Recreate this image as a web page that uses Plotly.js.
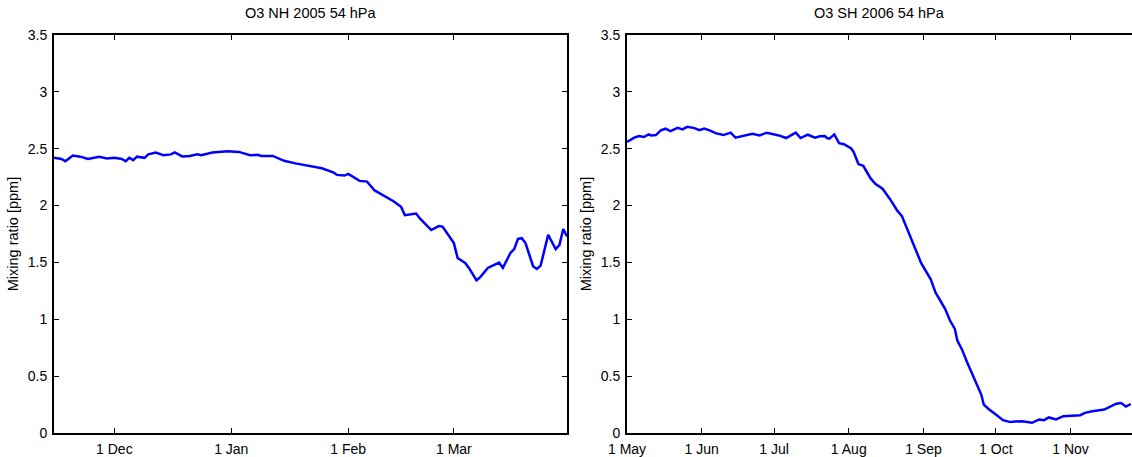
<!DOCTYPE html>
<html>
<head>
<meta charset="utf-8">
<script src="https://cdn.plot.ly/plotly-3.0.1.min.js"></script>
<style>
  html, body { margin: 0; padding: 0; background: #fff; overflow: hidden; }
  #chart { width: 1132px; height: 457px; }
</style>
</head>
<body>
<div id="chart"></div>
<script>
// O3 mixing ratio at 54 hPa, NH winter 2005/06
var nhDates = [
  '2005-11-15', '2005-11-17', '2005-11-18', '2005-11-20', '2005-11-22', '2005-11-24',
  '2005-11-27', '2005-11-29', '2005-12-01', '2005-12-03', '2005-12-04', '2005-12-05',
  '2005-12-06', '2005-12-07', '2005-12-09', '2005-12-10', '2005-12-12', '2005-12-14',
  '2005-12-16', '2005-12-17', '2005-12-19', '2005-12-21', '2005-12-23', '2005-12-24',
  '2005-12-27', '2005-12-31', '2006-01-03', '2006-01-06', '2006-01-08', '2006-01-09',
  '2006-01-12', '2006-01-15', '2006-01-18', '2006-01-20', '2006-01-22', '2006-01-25',
  '2006-01-28', '2006-01-29', '2006-01-31', '2006-02-01', '2006-02-04', '2006-02-06',
  '2006-02-08', '2006-02-11', '2006-02-13', '2006-02-15', '2006-02-16', '2006-02-19',
  '2006-02-20', '2006-02-23', '2006-02-25', '2006-02-26', '2006-02-28', '2006-03-01',
  '2006-03-02', '2006-03-04', '2006-03-05', '2006-03-07', '2006-03-08', '2006-03-10',
  '2006-03-11', '2006-03-13', '2006-03-14', '2006-03-16', '2006-03-17', '2006-03-18',
  '2006-03-19', '2006-03-20', '2006-03-22', '2006-03-23', '2006-03-24', '2006-03-26',
  '2006-03-28', '2006-03-29', '2006-03-30', '2006-03-31'
];
var nhO3 = [
  2.42, 2.41, 2.39, 2.44, 2.43, 2.41,
  2.43, 2.415, 2.42, 2.41, 2.39, 2.42,
  2.40, 2.43, 2.42, 2.45, 2.467, 2.443,
  2.45, 2.467, 2.432, 2.437, 2.452, 2.443,
  2.467, 2.478, 2.472, 2.443, 2.446, 2.437,
  2.437, 2.394, 2.371, 2.357, 2.345, 2.328,
  2.293, 2.27, 2.264, 2.278, 2.217, 2.211,
  2.133, 2.075, 2.038, 1.989, 1.916, 1.93,
  1.887, 1.785, 1.82, 1.815, 1.713, 1.67,
  1.539, 1.496, 1.452, 1.342, 1.371, 1.452,
  1.467, 1.498, 1.452, 1.583, 1.617, 1.707,
  1.713, 1.67, 1.467, 1.443, 1.472, 1.742,
  1.617, 1.655, 1.794, 1.728
];

// O3 mixing ratio at 54 hPa, SH winter/spring 2006
var shDates = [
  '2006-05-01', '2006-05-04', '2006-05-06', '2006-05-08', '2006-05-10', '2006-05-11',
  '2006-05-13', '2006-05-15', '2006-05-17', '2006-05-19', '2006-05-22', '2006-05-24',
  '2006-05-26', '2006-05-29', '2006-05-31', '2006-06-02', '2006-06-04', '2006-06-07',
  '2006-06-10', '2006-06-13', '2006-06-15', '2006-06-19', '2006-06-22', '2006-06-25',
  '2006-06-28', '2006-07-03', '2006-07-06', '2006-07-10', '2006-07-12', '2006-07-15',
  '2006-07-18', '2006-07-20', '2006-07-22', '2006-07-23', '2006-07-24', '2006-07-26',
  '2006-07-28', '2006-07-30', '2006-08-02', '2006-08-03', '2006-08-05', '2006-08-07',
  '2006-08-10', '2006-08-12', '2006-08-15', '2006-08-18', '2006-08-21', '2006-08-23',
  '2006-08-26', '2006-08-28', '2006-08-31', '2006-09-04', '2006-09-06', '2006-09-08',
  '2006-09-10', '2006-09-12', '2006-09-14', '2006-09-15', '2006-09-17', '2006-09-19',
  '2006-09-21', '2006-09-23', '2006-09-25', '2006-09-26', '2006-09-28', '2006-10-01',
  '2006-10-04', '2006-10-07', '2006-10-09', '2006-10-12', '2006-10-16', '2006-10-19',
  '2006-10-21', '2006-10-23', '2006-10-26', '2006-10-29', '2006-11-01', '2006-11-05',
  '2006-11-07', '2006-11-10', '2006-11-15', '2006-11-18', '2006-11-20', '2006-11-22',
  '2006-11-24', '2006-11-26'
];
var shO3 = [
  2.56, 2.597, 2.611, 2.603, 2.626, 2.617,
  2.62, 2.661, 2.676, 2.655, 2.684, 2.67,
  2.693, 2.681, 2.663, 2.678, 2.663, 2.635,
  2.62, 2.641, 2.597, 2.617, 2.632, 2.617,
  2.641, 2.617, 2.594, 2.641, 2.594, 2.623,
  2.597, 2.609, 2.611, 2.594, 2.589, 2.626,
  2.548, 2.539, 2.502, 2.472, 2.365, 2.35,
  2.241, 2.191, 2.148, 2.061, 1.959, 1.91,
  1.757, 1.655, 1.496, 1.351, 1.235, 1.163,
  1.09, 0.989, 0.916, 0.815, 0.733, 0.626,
  0.524, 0.423, 0.336, 0.25, 0.211, 0.163,
  0.113, 0.096, 0.102, 0.104, 0.09, 0.119,
  0.113, 0.137, 0.119, 0.148, 0.154, 0.157,
  0.177, 0.191, 0.206, 0.235, 0.258, 0.264,
  0.232, 0.255
];

var nhTicks = ['2005-12-01', '2006-01-01', '2006-02-01', '2006-03-01'];
var nhTickText = ['1 Dec', '1 Jan', '1 Feb', '1 Mar'];
var shTicks = ['2006-05-01', '2006-06-01', '2006-07-01', '2006-08-01', '2006-09-01', '2006-10-01', '2006-11-01'];
var shTickText = ['1 May', '1 Jun', '1 Jul', '1 Aug', '1 Sep', '1 Oct', '1 Nov'];
var yTicks = [0, 0.5, 1, 1.5, 2, 2.5, 3, 3.5];
var yTickText = ['0', '0.5', '1', '1.5', '2', '2.5', '3', '3.5'];
var titles = ['O3 NH 2005 54 hPa', 'O3 SH 2006 54 hPa'];
var yLabel = 'Mixing ratio [ppm]';

var FONT = 'Liberation Sans, Arial, sans-serif';

var trace1 = {
  x: nhDates, y: nhO3, type: 'scatter', mode: 'lines',
  line: {color: '#0000ff', width: 2.5},
  xaxis: 'x', yaxis: 'y', hoverinfo: 'none'
};
var trace2 = {
  x: shDates, y: shO3, type: 'scatter', mode: 'lines',
  line: {color: '#0000ff', width: 2.5},
  xaxis: 'x2', yaxis: 'y2', hoverinfo: 'none'
};

function xAxis(dom, range, vals, text, mirror) {
  return {
    domain: dom, range: range, type: 'date',
    tickmode: 'array', tickvals: vals, ticktext: text,
    ticks: 'inside', ticklen: 5, tickwidth: 1, tickcolor: '#000',
    ticklabelstandoff: 2,
    showline: true, linecolor: '#000', linewidth: 2, mirror: mirror,
    showgrid: false, zeroline: false,
    tickfont: {family: FONT, size: 14, color: '#000'}
  };
}
function yAxis(anchor, mirror) {
  return {
    domain: [0.0525, 0.9234], range: [0, 3.5], anchor: anchor,
    tickmode: 'array', tickvals: yTicks, ticktext: yTickText,
    ticks: 'inside', ticklen: 5, tickwidth: 1, tickcolor: '#000',
    ticklabelstandoff: 2,
    showline: true, linecolor: '#000', linewidth: 2, mirror: mirror,
    showgrid: false, zeroline: false,
    tickfont: {family: FONT, size: 14, color: '#000'},
    title: {text: yLabel, font: {family: FONT, size: 14.5, color: '#000'}, standoff: 6}
  };
}

var xa1 = xAxis([0.0477, 0.5009], ['2005-11-15', '2006-03-31'], nhTicks, nhTickText, 'ticks');
xa1.anchor = 'y';
var xa2 = xAxis([0.5539, 1], ['2006-05-01', '2006-11-26 12:00'], shTicks, shTickText, 'ticks');
xa2.anchor = 'y2';

var layout = {
  width: 1132, height: 457,
  margin: {t: 0, b: 0, l: 0, r: 0},
  paper_bgcolor: '#fff', plot_bgcolor: '#fff',
  showlegend: false,
  xaxis: xa1, yaxis: yAxis('x', 'ticks'),
  xaxis2: xa2, yaxis2: yAxis('x2', false),
  annotations: [
    {text: titles[0], xref: 'x domain', yref: 'paper', x: 0.5, y: 0.972, xanchor: 'center', yanchor: 'middle',
     showarrow: false, font: {family: FONT, size: 14.5, color: '#000'}},
    {text: titles[1], xref: 'x2 domain', yref: 'paper', x: 0.5, y: 0.972, xanchor: 'center', yanchor: 'middle',
     showarrow: false, font: {family: FONT, size: 14.5, color: '#000'}}
  ]
};

Plotly.newPlot('chart', [trace1, trace2], layout, {staticPlot: true, displayModeBar: false});
</script>
</body>
</html>
